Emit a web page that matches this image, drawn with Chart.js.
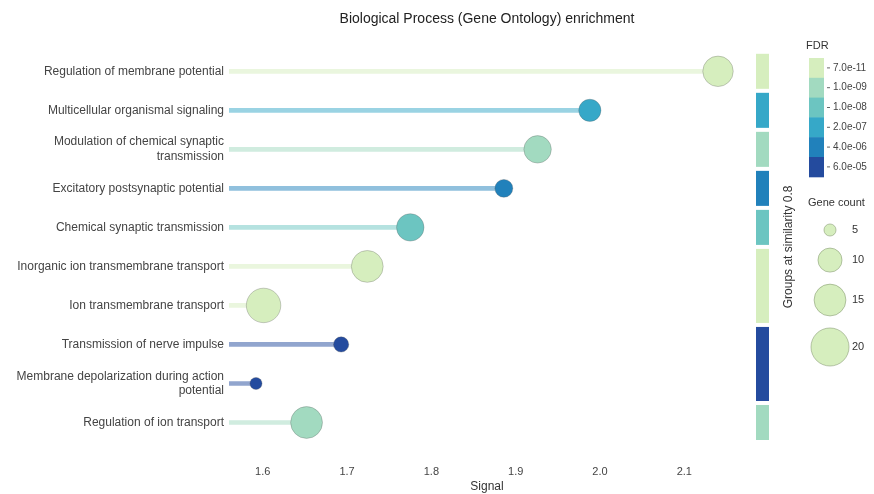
<!DOCTYPE html>
<html>
<head>
<meta charset="utf-8">
<script src="https://cdn.jsdelivr.net/npm/chart.js@4.4.1/dist/chart.umd.min.js"></script>
<style>
  html, body { margin: 0; padding: 0; background: #fff; }
  #wrap { width: 874px; height: 494px; }
</style>
</head>
<body>
<div id="wrap"><canvas id="mychart" width="874" height="494"></canvas></div>
<script>
// GO terms, top to bottom
var terms = [
    'Regulation of membrane potential',
    'Multicellular organismal signaling',
    ['Modulation of chemical synaptic', 'transmission'],
    'Excitatory postsynaptic potential',
    'Chemical synaptic transmission',
    'Inorganic ion transmembrane transport',
    'Ion transmembrane transport',
    'Transmission of nerve impulse',
    ['Membrane depolarization during action', 'potential'],
    'Regulation of ion transport'
]
var signal    = [2.140, 1.988, 1.926, 1.886, 1.775, 1.724, 1.601, 1.693, 1.592, 1.652]
var geneCount = [14, 9, 12, 7, 12, 15, 17, 6, 5, 15]
var fdr       = [7.0e-11, 2.0e-7, 1.0e-9, 4.0e-6, 1.0e-8, 1.2e-10, 2.0e-10, 6.0e-5, 5.5e-5, 1.3e-9]
var groups    = [0, 1, 2, 3, 4, 5, 5, 6, 6, 7]

var fdrTicks  = [7.0e-11, 1.0e-9, 1.0e-8, 2.0e-7, 4.0e-6, 6.0e-5]
var fdrLabels = ['7.0e-11', '1.0e-09', '1.0e-08', '2.0e-07', '4.0e-06', '6.0e-05']
var fdrColors = ['#d6eebe', '#a2dac0', '#6cc5c1', '#36a8c8', '#2181bb', '#244b9e']
var sizeTicks = [5, 10, 15, 20]

var xMin = 1.56, xMax = 2.172

function bubbleRadius(n) {
    return Math.sqrt(Math.max(21.7 * n - 72, 9))
}

function fdrColor(v) {
    var best = 0, d = Infinity
    fdrTicks.forEach(function(t, i) {
        var dd = Math.abs(Math.log10(t) - Math.log10(v))
        if (dd < d) { d = dd; best = i }
    })
    return fdrColors[best]
}

function withAlpha(hex, a) {
    var r = parseInt(hex.substr(1, 2), 16), g = parseInt(hex.substr(3, 2), 16), b = parseInt(hex.substr(5, 2), 16)
    return 'rgba(' + r + ',' + g + ',' + b + ',' + a + ')'
}

var dotColors = fdr.map(fdrColor)
var stemColors = dotColors.map(function(c) { return withAlpha(c, 0.5) })
var radii = geneCount.map(bubbleRadius)

// group colour = best (lowest) FDR in the group
var groupSpans = []
groups.forEach(function(g, i) {
    var s = groupSpans[g]
    if (!s) groupSpans[g] = { start: i, end: i, fdr: fdr[i] }
    else { s.end = i; s.fdr = Math.min(s.fdr, fdr[i]) }
})

var FONT = "'Liberation Sans', Arial, Helvetica, sans-serif"
Chart.defaults.font.family = FONT

var sidePanel = {
    id: 'sidePanel',
    afterDraw: function(chart) {
        var ctx = chart.ctx
        var y = chart.scales.y
        var area = chart.chartArea
        var step = y.getPixelForValue(1) - y.getPixelForValue(0)
        ctx.save()

        // groups column
        groupSpans.forEach(function(s) {
            var top = y.getPixelForValue(s.start) - step / 2 + 2
            var bot = y.getPixelForValue(s.end) + step / 2 - 2
            ctx.fillStyle = fdrColor(s.fdr)
            ctx.fillRect(756, top, 13, bot - top)
        })
        ctx.fillStyle = '#333'
        ctx.font = '12px ' + FONT
        ctx.textAlign = 'center'
        ctx.textBaseline = 'middle'
        ctx.translate(789, (area.top + area.bottom) / 2)
        ctx.rotate(-Math.PI / 2)
        ctx.fillText('Groups at similarity 0.8', 0, 0)
        ctx.setTransform(1, 0, 0, 1, 0, 0)

        // FDR colour bar
        ctx.textAlign = 'left'
        ctx.font = '11px ' + FONT
        ctx.fillStyle = '#333'
        ctx.fillText('FDR', 806, 46)
        var bandH = 19.8
        fdrColors.forEach(function(c, i) {
            var top = 58 + i * bandH
            ctx.fillStyle = c
            ctx.fillRect(809, top, 15, bandH + 0.5)
            ctx.strokeStyle = '#666'
            ctx.lineWidth = 1
            ctx.beginPath()
            ctx.moveTo(827, top + bandH / 2)
            ctx.lineTo(830, top + bandH / 2)
            ctx.stroke()
            ctx.fillStyle = '#444'
            ctx.font = '10px ' + FONT
            ctx.fillText(fdrLabels[i], 833, top + bandH / 2)
        })

        // Gene count legend
        ctx.font = '11px ' + FONT
        ctx.fillStyle = '#333'
        ctx.fillText('Gene count', 808, 203)
        var cy = 230 - bubbleRadius(sizeTicks[0])
        sizeTicks.forEach(function(n, i) {
            var r = bubbleRadius(n)
            cy += (i === 0 ? 0 : 12) + r
            ctx.beginPath()
            ctx.arc(830, cy, r, 0, Math.PI * 2)
            ctx.fillStyle = fdrColors[0]
            ctx.fill()
            ctx.strokeStyle = 'rgba(110,130,90,0.45)'
            ctx.stroke()
            ctx.fillStyle = '#333'
            ctx.font = '11px ' + FONT
            ctx.fillText(String(n), 852, cy)
            cy += r
        })
        ctx.restore()
    }
}

var myChart = document.getElementById('mychart').getContext('2d')

var chart = new Chart(myChart, {
    type: 'scatter',
    data: {
        labels: terms,
        datasets: [
            {
                type: 'scatter',
                label: 'Gene count',
                data: signal.map(function(v, i) { return { x: v, y: i } }),
                pointRadius: radii,
                pointHoverRadius: radii,
                pointBackgroundColor: dotColors,
                pointBorderColor: 'rgba(90,90,90,0.3)',
                pointBorderWidth: 1,
                clip: false,
                order: 0
            },
            {
                type: 'bar',
                label: 'stem',
                indexAxis: 'y',
                data: signal.map(function(v) { return [xMin, v] }),
                backgroundColor: stemColors,
                borderWidth: 0,
                barThickness: 4,
                order: 1
            }
        ]
    },
    plugins: [sidePanel],
    options: {
        responsive: false,
        animation: false,
        layout: { padding: { left: 0, right: 129, top: 0, bottom: 0 } },
        plugins: {
            legend: { display: false },
            tooltip: { enabled: false },
            title: {
                display: true,
                fullSize: false,
                text: 'Biological Process (Gene Ontology) enrichment',
                color: '#222',
                font: { size: 14, weight: 'normal' },
                padding: { top: 11, bottom: 24 }
            }
        },
        scales: {
            x: {
                type: 'linear',
                min: xMin,
                max: xMax,
                grid: { display: false, drawTicks: false },
                border: { display: false },
                ticks: {
                    stepSize: 0.1,
                    includeBounds: false,
                    padding: 23,
                    color: '#444',
                    font: { size: 11 },
                    callback: function(v) { return v.toFixed(1) }
                },
                title: {
                    display: true,
                    text: 'Signal',
                    color: '#333',
                    font: { size: 12 },
                    padding: { top: 0, bottom: 0 }
                },
                afterFit: function(scale) { scale.height = 52 }
            },
            y: {
                type: 'category',
                labels: terms,
                offset: true,
                grid: { display: false, drawTicks: false },
                border: { display: false },
                ticks: {
                    padding: 5,
                    color: '#444',
                    font: { size: 12 },
                    autoSkip: false
                },
                afterFit: function(scale) { scale.width = 229 }
            }
        }
    }
})
</script>
</body>
</html>
